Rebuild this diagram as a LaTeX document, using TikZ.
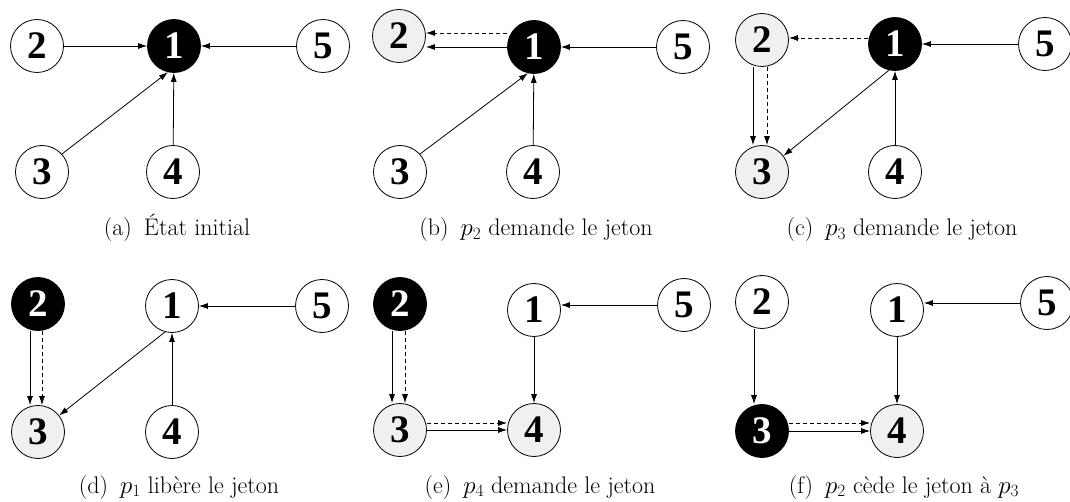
\documentclass[tikz,border=0pt]{standalone}
\usepackage{fontspec}
\newfontfamily\numfont{Liberation Serif}
\usetikzlibrary{arrows.meta}
\tikzset{
 pn/.style={circle, draw, line width=0.8pt, minimum size=53pt, inner sep=0pt,
   font=\numfont\bfseries\fontsize{39}{39}\selectfont, fill=white},
 tok/.style={pn, fill=black, text=white},
 req/.style={pn, fill=black!6},
 arr/.style={line width=0.8pt, -{Latex[length=9pt,width=6pt]}},
 darr/.style={arr, dash pattern=on 4pt off 3pt},
 captxt/.style={font=\fontsize{24}{26}\selectfont, anchor=base, inner sep=0pt},
}
\newcommand{\sep}{\hspace{0.5em}}
\begin{document}
\begin{tikzpicture}[x=1pt,y=-1pt]
\useasboundingbox (0,0) rectangle (1070,502);
% ---------- (a)
\node[pn]  (a2) at (37,46) {2};
\node[tok] (a1) at (174,46) {1};
\node[pn]  (a5) at (323,46) {5};
\node[pn]  (a3) at (42,172) {3};
\node[pn]  (a4) at (173,172) {4};
\draw[arr] (a2) -- (a1);
\draw[arr] (a5) -- (a1);
\draw[arr] (a3.42) -- (a1.257);
\draw[arr] (a4) -- (a1);
\node[captxt] (ca) at (177,236) {(a)\sep État initial};
% ---------- (b)
\node[req] (b2) at (399,36) {2};
\node[tok] (b1) at (534,47) {1};
\node[pn]  (b5) at (683,47) {5};
\node[pn]  (b3) at (400,172) {3};
\node[pn]  (b4) at (533,172) {4};
\draw[arr] (b1.west) -- (b2.east |- b1.west);
\draw[darr] ([yshift=14pt]b1.west) -- ([yshift=3pt]b2.east);
\draw[arr] (b5) -- (b1);
\draw[arr] (b3.42) -- (b1.257);
\draw[arr] (b4) -- (b1);
\node[captxt] (cb) at (536,236) {(b)\sep $p_2$ demande le jeton};
% ---------- (c)
\node[req] (c2) at (762,40) {2};
\node[tok] (c1) at (895,44) {1};
\node[pn]  (c5) at (1045,44) {5};
\node[req] (c3) at (762,172) {3};
\node[pn]  (c4) at (895,172) {4};
\draw[darr] ([yshift=6pt]c1.west) -- ([yshift=2pt]c2.east);
\draw[arr] ([xshift=-9pt]c2.south) -- ([xshift=-9pt]c3.north);
\draw[darr] ([xshift=5pt]c2.south) -- ([xshift=5pt]c3.north);
\draw[arr] (c1.257) -- (c3.37);
\draw[arr] (c5) -- (c1);
\draw[arr] (c4) -- (c1);
\node[captxt] (cc) at (902,236) {(c)\sep $p_3$ demande le jeton};
% ---------- (d)
\node[tok] (d2) at (38,304) {2};
\node[pn]  (d1) at (172,306) {1};
\node[pn]  (d5) at (322,306) {5};
\node[req] (d3) at (38,432) {3};
\node[pn]  (d4) at (172,432) {4};
\draw[arr] ([xshift=-8pt]d2.south) -- ([xshift=-8pt]d3.north);
\draw[darr] ([xshift=4pt]d2.south) -- ([xshift=4pt]d3.north);
\draw[arr] (d1.255) -- (d3.38);
\draw[arr] (d5) -- (d1);
\draw[arr] (d4) -- (d1);
\node[captxt] (cd) at (179,493) {(d)\sep $p_1$ libère le jeton};
% ---------- (e)
\node[tok] (e2) at (400,304) {2};
\node[pn]  (e1) at (534,310) {1};
\node[pn]  (e5) at (684,305) {5};
\node[req] (e3) at (400,430) {3};
\node[req] (e4) at (534,430) {4};
\draw[arr] ([xshift=-8pt]e2.south) -- ([xshift=-8pt]e3.north);
\draw[darr] ([xshift=5pt]e2.south) -- ([xshift=5pt]e3.north);
\draw[arr] (e3) -- (e4);
\draw[darr] ([yshift=7pt]e3.east) -- ([yshift=7pt]e4.west);
\draw[arr] (e1) -- (e4);
\draw[arr] (e5.west) -- (e1.east |- e5.west);
\node[captxt] (ce) at (540,493) {(e)\sep $p_4$ demande le jeton};
% ---------- (f)
\node[pn]  (f2) at (762,302) {2};
\node[pn]  (f1) at (897,310) {1};
\node[pn]  (f5) at (1047,303) {5};
\node[tok] (f3) at (762,431) {3};
\node[req] (f4) at (897,431) {4};
\draw[arr] ([xshift=-8pt]f2.south) -- ([xshift=-8pt]f3.north);
\draw[arr] (f3) -- (f4);
\draw[darr] ([yshift=8pt]f3.east) -- ([yshift=8pt]f4.west);
\draw[arr] (f1) -- (f4);
\draw[arr] (f5.west) -- (f1.east |- f5.west);
\node[captxt] (cf) at (904,493) {(f)\sep $p_2$ cède le jeton à $p_3$};
\end{tikzpicture}
\end{document}
